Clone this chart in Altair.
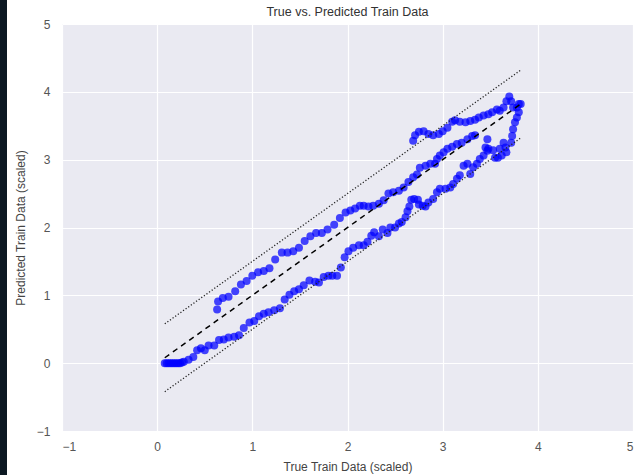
import altair as alt
import pandas as pd

# ---- scatter data (true vs predicted, scaled) ----
true_lower = [0.08, 0.10, 0.12, 0.14, 0.16, 0.18, 0.20, 0.22, 0.24, 0.26, 0.28, 0.33, 0.38, 0.42, 0.46,
              0.50, 0.54, 0.60, 0.65, 0.70, 0.75, 0.81, 0.86, 0.91, 0.97, 1.02, 1.07, 1.12, 1.17, 1.23,
              1.29, 1.34, 1.39, 1.44, 1.49, 1.54, 1.60, 1.66, 1.70, 1.75, 1.80, 1.84, 1.89, 1.93, 1.97,
              2.01, 2.06, 2.12, 2.17, 2.21, 2.25, 2.28, 2.33, 2.37, 2.42, 2.45, 2.50, 2.54, 2.57, 2.61,
              2.63, 2.65, 2.67, 2.70, 2.74, 2.75, 2.79, 2.82, 2.85, 2.90, 2.94, 2.97, 3.03, 3.08, 3.11,
              3.15, 3.18, 3.22, 3.26, 3.29, 3.32, 3.36, 3.39, 3.43, 3.47]
pred_lower = [0.00, 0.00, 0.00, 0.00, 0.00, 0.00, 0.00, 0.00, 0.00, 0.01, 0.02, 0.05, 0.09, 0.19, 0.22,
              0.19, 0.26, 0.26, 0.34, 0.35, 0.38, 0.39, 0.41, 0.52, 0.60, 0.62, 0.69, 0.73, 0.75, 0.78,
              0.81, 0.94, 1.01, 1.06, 1.09, 1.15, 1.22, 1.20, 1.19, 1.27, 1.29, 1.29, 1.29, 1.41, 1.56,
              1.65, 1.70, 1.74, 1.74, 1.79, 1.88, 1.93, 1.87, 1.97, 1.92, 2.00, 2.00, 2.06, 2.08, 2.15,
              2.24, 2.31, 2.41, 2.42, 2.41, 2.34, 2.32, 2.31, 2.37, 2.42, 2.52, 2.57, 2.57, 2.59, 2.64,
              2.72, 2.77, 2.91, 2.94, 2.79, 2.89, 2.94, 3.01, 3.06, 3.13]

true_cluster = [3.45, 3.47, 3.48, 3.53, 3.55, 3.58, 3.62, 3.60, 3.64, 3.66, 3.67, 3.72, 3.73, 3.74,
                3.76, 3.78, 3.80]
pred_cluster = [3.18, 3.30, 3.16, 3.14, 3.03, 3.03, 3.06, 3.16, 3.25, 3.18, 3.11, 3.25, 3.35, 3.45,
                3.55, 3.62, 3.70]

true_upper = [0.63, 0.64, 0.69, 0.75, 0.82, 0.88, 0.94, 1.00, 1.06, 1.12, 1.18, 1.24, 1.31, 1.37, 1.43,
              1.49, 1.55, 1.61, 1.67, 1.73, 1.79, 1.86, 1.92, 1.98, 2.03, 2.08, 2.13, 2.17, 2.22, 2.27,
              2.33, 2.38, 2.43, 2.48, 2.54, 2.59, 2.64, 2.69, 2.73, 2.76, 2.82, 2.87, 2.92, 2.94, 2.97,
              3.01, 3.05, 3.10, 3.15, 3.20, 3.26, 3.31, 3.34]
pred_upper = [0.79, 0.91, 0.96, 0.98, 1.06, 1.16, 1.21, 1.29, 1.34, 1.36, 1.40, 1.53, 1.63, 1.63, 1.65,
              1.70, 1.80, 1.87, 1.92, 1.92, 1.97, 2.04, 2.14, 2.22, 2.25, 2.28, 2.32, 2.32, 2.31, 2.32,
              2.35, 2.40, 2.50, 2.52, 2.54, 2.59, 2.67, 2.74, 2.78, 2.88, 2.91, 2.94, 2.94, 3.01, 3.06,
              3.11, 3.16, 3.19, 3.23, 3.25, 3.30, 3.35, 3.36]

true_top = [2.69, 2.71, 2.75, 2.80, 2.85, 2.90, 2.96, 3.00, 3.05, 3.10, 3.13, 3.18, 3.24, 3.29, 3.34,
            3.38, 3.43, 3.48, 3.52, 3.57, 3.60, 3.64, 3.67, 3.70, 3.72, 3.74, 3.78, 3.80, 3.82]
pred_top = [3.28, 3.36, 3.41, 3.42, 3.38, 3.36, 3.38, 3.42, 3.47, 3.56, 3.58, 3.56, 3.55, 3.57, 3.59,
            3.62, 3.65, 3.67, 3.70, 3.74, 3.72, 3.77, 3.86, 3.93, 3.86, 3.77, 3.77, 3.82, 3.82]

# ---- reference lines ----
line_x = [0.08, 3.83]
ideal_y = [0.08, 3.83]
upper_y = [0.58, 4.33]
lower_y = [-0.42, 3.33]

axis_ticks = [-1, 0, 1, 2, 3, 4, 5]
chart_title = "True vs. Predicted Train Data"

points = pd.DataFrame({
    "true": true_lower + true_cluster + true_upper + true_top,
    "pred": pred_lower + pred_cluster + pred_upper + pred_top,
})
ideal = pd.DataFrame({"x": line_x, "y": ideal_y})
upper = pd.DataFrame({"x": line_x, "y": upper_y})
lower = pd.DataFrame({"x": line_x, "y": lower_y})

xscale = alt.Scale(domain=[-1, 5], nice=False, zero=False)
yscale = alt.Scale(domain=[-1, 5], nice=False, zero=False)
xaxis = alt.Axis(values=axis_ticks, format="d", title="True Train Data (scaled)",
                 titlePadding=9, labelPadding=10)
yaxis = alt.Axis(values=axis_ticks, format="d", title="Predicted Train Data (scaled)",
                 titlePadding=9, labelPadding=12)

scatter = alt.Chart(points).mark_circle(size=64, color="#0000ff", opacity=0.72).encode(
    x=alt.X("true:Q", scale=xscale, axis=xaxis),
    y=alt.Y("pred:Q", scale=yscale, axis=yaxis),
)

ideal_line = alt.Chart(ideal).mark_line(color="black", strokeWidth=1.5, strokeDash=[5.5, 4.5]).encode(
    x=alt.X("x:Q", scale=xscale), y=alt.Y("y:Q", scale=yscale))
upper_line = alt.Chart(upper).mark_line(color="#222222", strokeWidth=1.3, strokeDash=[1.2, 2.0]).encode(
    x=alt.X("x:Q", scale=xscale), y=alt.Y("y:Q", scale=yscale))
lower_line = alt.Chart(lower).mark_line(color="#222222", strokeWidth=1.3, strokeDash=[1.2, 2.0]).encode(
    x=alt.X("x:Q", scale=xscale), y=alt.Y("y:Q", scale=yscale))

# chart title drawn as a text mark centred above the plot area
title_mark = alt.Chart(pd.DataFrame({"t": [chart_title]})).mark_text(
    font="Liberation Sans", fontSize=12.5, color="#333333", align="center", baseline="middle"
).encode(x=alt.value(285.5), y=alt.value(-12), text="t:N")

# dark window edge visible at the far left of the screenshot
edge = alt.Chart(pd.DataFrame({"k": [0]})).mark_rect(color="#0c1822").encode(
    x=alt.value(-62), x2=alt.value(-55), y=alt.value(-24), y2=alt.value(451))

chart = alt.layer(scatter, ideal_line, upper_line, lower_line, title_mark, edge).properties(
    width=571,
    height=407,
    background="white",
    autosize=alt.AutoSizeParams(type="none"),
    padding={"left": 62, "top": 24, "right": 8, "bottom": 44},
).configure_view(
    fill="#EAEAF2", strokeWidth=0
).configure_axis(
    grid=True, gridColor="white", gridWidth=1.2, domain=False, ticks=False,
    labelColor="#555555", labelFontSize=12, labelFont="Liberation Sans",
    titleColor="#444444", titleFontSize=12, titleFont="Liberation Sans", titleFontWeight="normal",
)

chart.save("out.html", embed_options={"renderer": "svg", "actions": False})
